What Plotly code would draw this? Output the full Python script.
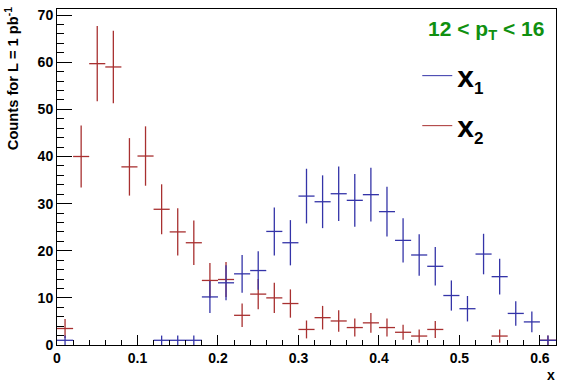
import plotly.graph_objects as go

bin_centers = [0.01, 0.03, 0.05, 0.07, 0.09, 0.11, 0.13, 0.15, 0.17, 0.19,
               0.21, 0.23, 0.25, 0.27, 0.29, 0.31, 0.33, 0.35, 0.37, 0.39,
               0.41, 0.43, 0.45, 0.47, 0.49, 0.51, 0.53, 0.55, 0.57, 0.59, 0.61]
bin_half_width = 0.01

x1_counts = [1.0, None, None, None, None, None, 1.0, 1.0, 1.0, 10.2,
             13.2, 15.1, 15.8, 24.1, 21.7, 31.6, 30.4, 32.1, 30.7, 31.9,
             28.3, 22.2, 19.1, 16.7, 10.5, 7.7, 19.3, 14.5, 6.7, 4.9, 1.0]
x1_errors = [1.0, None, None, None, None, None, 1.0, 1.0, 1.0, 3.4,
             3.7, 4.0, 4.1, 5.1, 4.8, 5.8, 5.6, 5.8, 5.6, 5.7,
             5.3, 4.7, 4.4, 4.1, 3.2, 2.7, 4.3, 3.8, 2.6, 2.2, 1.0]

x2_counts = [3.5, 40.0, 59.7, 59.0, 37.8, 40.1, 28.8, 24.0, 21.7, 13.7,
             13.9, 6.3, 10.8, 10.0, 8.8, 3.3, 5.8, 5.1, 3.7, 4.7,
             3.7, 2.7, 1.9, 3.3, None, None, None, 1.9, None, None, 1.0]
x2_errors = [2.0, 6.6, 8.0, 7.7, 6.1, 6.3, 5.3, 5.0, 4.7, 3.7,
             3.7, 2.5, 3.2, 3.2, 3.0, 1.9, 2.5, 2.3, 1.9, 2.1,
             1.9, 1.6, 1.4, 1.8, None, None, None, 1.4, None, None, 1.0]

x_ticks = [0, 0.1, 0.2, 0.3, 0.4, 0.5, 0.6]
x_tick_labels = ["0", "0.1", "0.2", "0.3", "0.4", "0.5", "0.6"]
y_ticks = [0, 10, 20, 30, 40, 50, 60, 70]

BLUE = "#3434a8"
RED = "#a83030"
FONT = "Liberation Sans"

fig = go.Figure()


def add_hist(counts, errors, color):
    xs = [c for c, v in zip(bin_centers, counts) if v is not None]
    ys = [v for v in counts if v is not None]
    es = [e for e, v in zip(errors, counts) if v is not None]
    fig.add_trace(go.Scatter(
        x=xs, y=ys, mode="markers",
        marker=dict(size=1, color="rgba(0,0,0,0)", line=dict(width=0)),
        error_x=dict(type="constant", value=bin_half_width, color=color,
                     thickness=1.3, width=0),
        error_y=dict(type="data", array=es, color=color, thickness=1.3, width=0),
        showlegend=False, hoverinfo="skip",
    ))


add_hist(x2_counts, x2_errors, RED)
add_hist(x1_counts, x1_errors, BLUE)

# legend entries
legend_entries = [("1", BLUE), ("2", RED)]
for idx, color in legend_entries:
    fig.add_trace(go.Scatter(
        x=[None], y=[None], mode="lines", line=dict(color=color, width=1),
        legendgroup="g" + idx,
        name="<b>x</b><sub><span style='font-size:17px'><b>" + idx + "</b></span></sub>"))

fig.update_layout(
    width=567, height=384,
    margin=dict(l=57, r=11, t=7, b=39),
    paper_bgcolor="white", plot_bgcolor="white",
    font=dict(family=FONT, color="black"),
    legend=dict(x=0.722, y=0.879, xanchor="left", yanchor="top",
                font=dict(size=30, family=FONT), itemwidth=30,
                tracegroupgap=8, bgcolor="rgba(0,0,0,0)"),
    xaxis=dict(range=[0, 0.62], tickvals=x_ticks, ticktext=x_tick_labels,
               ticks="inside", ticklen=10, tickcolor="black", tickwidth=1,
               minor=dict(dtick=0.02, ticks="inside", ticklen=5, tickcolor="black"),
               showline=True, linecolor="black", linewidth=1, mirror=True,
               showgrid=False, zeroline=False,
               tickfont=dict(size=14, family=FONT, color="black", weight="bold")),
    yaxis=dict(range=[0, 71.3], tickvals=y_ticks,
               ticks="inside", ticklen=15, tickcolor="black", tickwidth=1,
               minor=dict(dtick=2, ticks="inside", ticklen=7, tickcolor="black"),
               showline=True, linecolor="black", linewidth=1, mirror=True,
               showgrid=False, zeroline=False,
               tickfont=dict(size=14, family=FONT, color="black", weight="bold")),
    annotations=[
        dict(text="<b>12 < p<sub>T</sub> < 16</b>", xref="paper", yref="paper",
             x=0.98, y=0.938, xanchor="right", yanchor="middle", showarrow=False,
             font=dict(size=21, color="#109010", family=FONT)),
        dict(text="<b>Counts for L = 1 pb<sup>-1</sup></b>", xref="paper", yref="paper",
             x=-0.09, y=1.01, xanchor="center", yanchor="top", textangle=-90,
             showarrow=False, font=dict(size=14.7, family=FONT, color="black")),
        dict(text="<b>x</b>", xref="paper", yref="paper",
             x=0.99, y=-0.09, xanchor="center", yanchor="middle", showarrow=False,
             font=dict(size=14, family=FONT, color="black")),
    ],
)

fig.write_html("out.html", config={"displayModeBar": False},
               post_script="document.body.style.margin='0px';")
